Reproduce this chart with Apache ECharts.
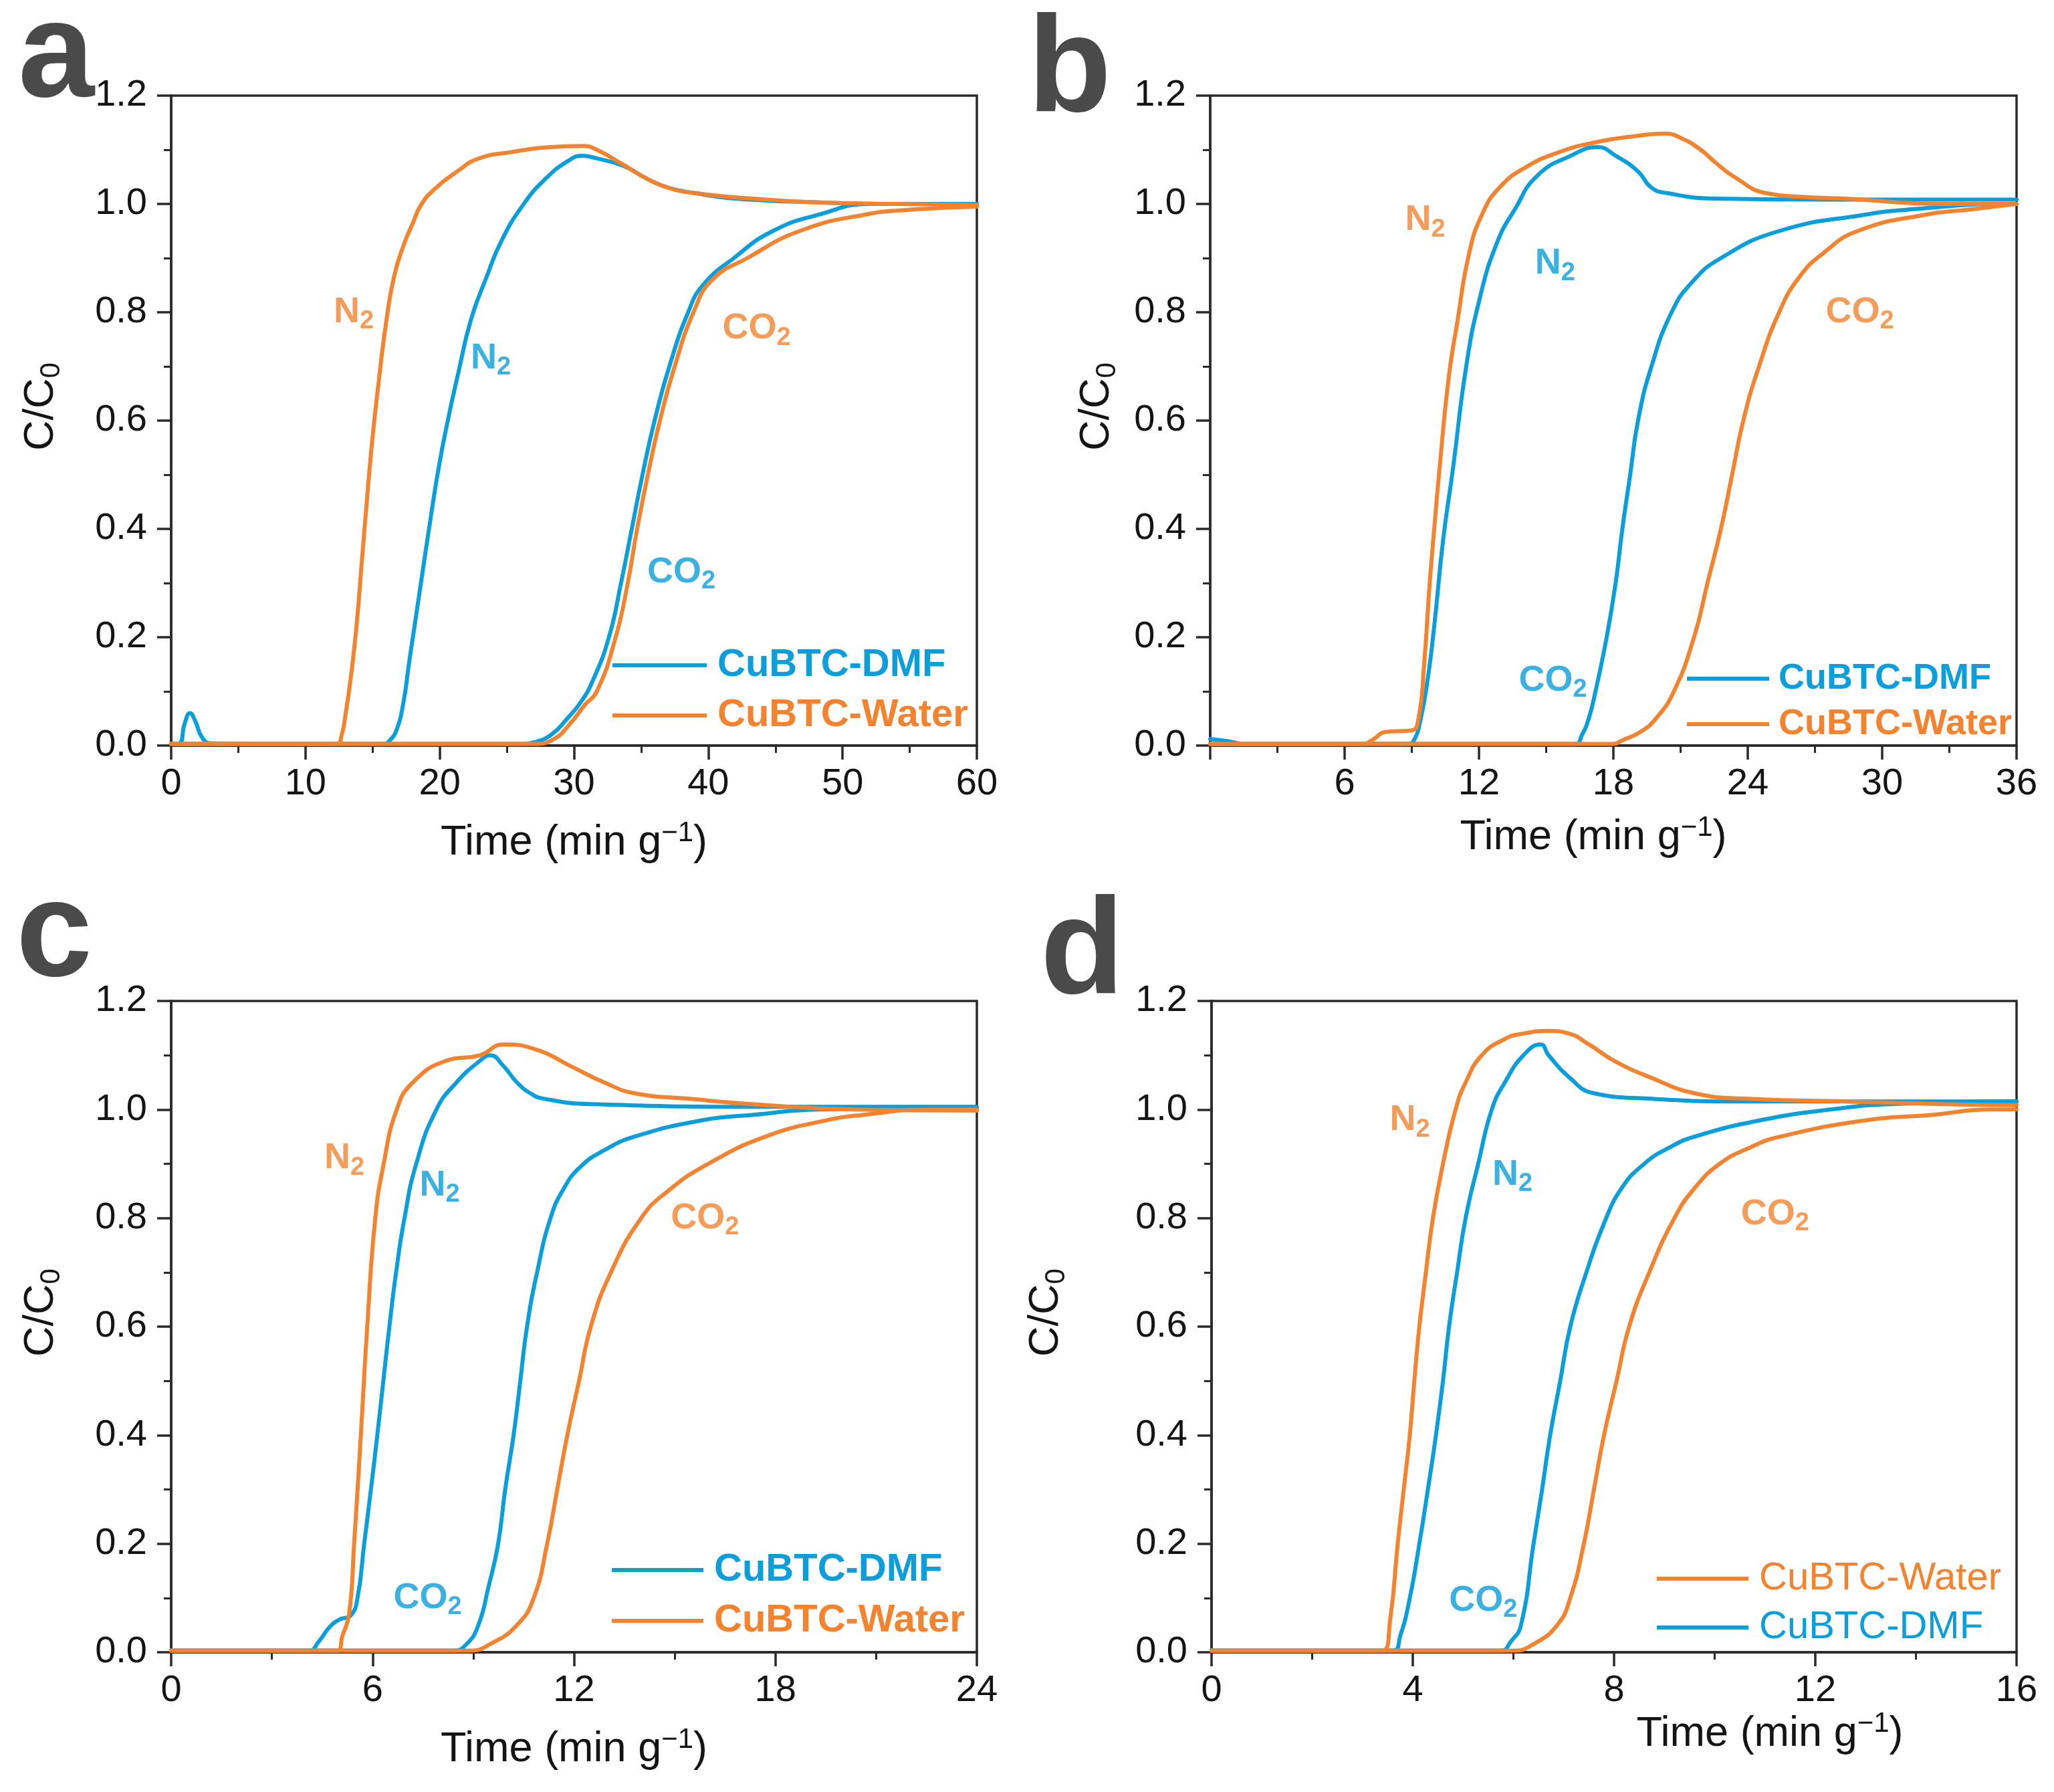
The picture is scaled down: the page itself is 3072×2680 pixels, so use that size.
<!DOCTYPE html>
<html>
<head>
<meta charset="utf-8">
<script src="https://cdn.jsdelivr.net/npm/echarts@6/dist/echarts.min.js"></script>
<style>html,body{margin:0;padding:0;background:#fff}#c{width:3072px;height:2680px}</style>
</head>
<body>
<div id="c"></div>
<script>
// ---------- data ----------
const panelLetters = ['a', 'b', 'c', 'd'];
const xMaxes = [60, 36, 24, 16];
const xSteps = [10, 6, 6, 4];
const yTickLabels = ['0.0', '0.2', '0.4', '0.6', '0.8', '1.0', '1.2'];
const seriesNames = ['CuBTC-DMF', 'CuBTC-Water'];

// panel a
const aDmfN2 = [[0,0.003],[0.6,0.004],[1.0,0.04],[1.4,0.06],[1.8,0.045],[2.3,0.015],[3,0.004],[10,0.003],[15.8,0.003],[16.3,0.01],[16.8,0.03],[17.3,0.08],[17.7,0.15],[18.0,0.2],[18.6,0.3],[19.2,0.4],[19.9,0.51],[20.6,0.6],[21.4,0.69],[22.3,0.784],[23.5,0.866],[24.6,0.932],[26.2,0.998],[27.9,1.047],[29.6,1.08],[30.6,1.089],[31.7,1.084],[33.7,1.07],[35.4,1.047],[37,1.03],[39,1.02],[42,1.01],[48,1.003],[54,1.0],[60,1.0]];
const aDmfCO2 = [[0,0.003],[26,0.003],[27,0.006],[28.3,0.02],[29.5,0.05],[30.5,0.08],[31.4,0.12],[32.6,0.2],[33.5,0.3],[34.3,0.4],[35.1,0.5],[36.0,0.6],[37.1,0.7],[38.5,0.8],[39.6,0.85],[41.9,0.9],[44.8,0.95],[48.2,0.98],[52.1,1.0],[60,1.0]];
const aWaterN2 = [[0,0.003],[12.3,0.003],[12.7,0.02],[13.0,0.06],[13.4,0.13],[13.8,0.22],[14.2,0.34],[14.6,0.46],[15.0,0.57],[15.4,0.66],[16.0,0.78],[16.6,0.866],[17.3,0.923],[18.0,0.965],[18.6,0.998],[19.6,1.027],[21.3,1.06],[22.9,1.084],[25.4,1.096],[28.2,1.105],[30.7,1.107],[31.7,1.1],[33.7,1.072],[35.4,1.047],[37,1.03],[39,1.02],[43.3,1.01],[48,1.003],[54,1.0],[60,0.998]];
const aWaterCO2 = [[0,0.003],[27,0.003],[28.5,0.012],[29.7,0.04],[30.8,0.075],[31.7,0.1],[33.1,0.2],[34.0,0.3],[34.7,0.4],[35.5,0.5],[36.4,0.6],[37.5,0.7],[38.9,0.8],[40.3,0.86],[42.9,0.9],[46.8,0.95],[51.6,0.98],[55.5,0.99],[60,0.995]];

// panel b
const bDmfN2 = [[0,0.012],[0.8,0.008],[1.5,0.003],[8.8,0.003],[9.1,0.01],[9.4,0.05],[9.7,0.12],[10.0,0.22],[10.4,0.38],[10.84,0.512],[11.43,0.7],[12.03,0.825],[12.8,0.928],[13.6,0.99],[14.6,1.052],[16.1,1.089],[17.3,1.105],[18.1,1.089],[19.1,1.06],[19.7,1.03],[20.4,1.02],[22.5,1.01],[28,1.008],[36,1.008]];
const bDmfCO2 = [[0,0.003],[16.3,0.003],[16.6,0.02],[16.9,0.05],[17.2,0.1],[17.7,0.2],[18.1,0.3],[18.4,0.4],[18.75,0.5],[19.1,0.6],[19.7,0.7],[20.6,0.8],[21.5,0.855],[22.8,0.9],[25.4,0.95],[29.2,0.98],[31.3,0.99],[35.7,1.0],[36,1.0]];
const bWaterN2 = [[0,0.003],[6.8,0.003],[7.3,0.012],[7.8,0.025],[9.0,0.028],[9.3,0.05],[9.55,0.15],[9.8,0.3],[10.0,0.4],[10.24,0.512],[10.65,0.68],[11.04,0.784],[11.55,0.907],[12.14,0.981],[12.93,1.031],[14.1,1.068],[15.6,1.096],[17.1,1.113],[19.1,1.126],[20.3,1.13],[21.1,1.12],[21.9,1.1],[22.6,1.075],[23.4,1.05],[24.8,1.02],[26.5,1.013],[28.3,1.01],[32.7,1.0],[36,1.0]];
const bWaterCO2 = [[0,0.003],[18.0,0.003],[18.4,0.01],[19.2,0.025],[19.9,0.05],[20.7,0.1],[21.6,0.2],[22.2,0.3],[22.8,0.4],[23.3,0.5],[23.8,0.6],[24.5,0.7],[25.4,0.8],[26.3,0.865],[27.4,0.91],[28.9,0.95],[31.9,0.98],[34,0.99],[36,1.0]];

// panel c
const cDmfN2 = [[0,0.003],[4.1,0.003],[4.4,0.02],[4.7,0.045],[5.0,0.06],[5.35,0.068],[5.55,0.1],[5.75,0.2],[5.95,0.3],[6.14,0.4],[6.32,0.5],[6.5,0.6],[6.7,0.7],[6.95,0.8],[7.3,0.9],[7.9,1.0],[8.5,1.05],[9.2,1.09],[9.5,1.1],[9.9,1.08],[10.3,1.05],[10.7,1.03],[11.1,1.02],[12.5,1.01],[18,1.005],[24,1.005]];
const cDmfCO2 = [[0,0.003],[8.4,0.003],[8.8,0.015],[9.15,0.05],[9.45,0.12],[9.74,0.2],[9.95,0.3],[10.2,0.4],[10.4,0.5],[10.6,0.6],[10.9,0.7],[11.3,0.8],[11.7,0.855],[12.2,0.895],[12.9,0.925],[13.8,0.95],[15.8,0.98],[17.3,0.99],[19.3,1.0],[24,1.003]];
const cWaterN2 = [[0,0.003],[4.95,0.003],[5.1,0.03],[5.3,0.07],[5.45,0.2],[5.65,0.4],[5.84,0.6],[6.08,0.8],[6.33,0.9],[6.72,1.0],[7.2,1.05],[8.2,1.09],[9.2,1.1],[9.9,1.12],[10.9,1.11],[11.9,1.08],[12.9,1.05],[13.8,1.03],[15.4,1.02],[17.3,1.01],[20.3,1.0],[24,0.998]];
const cWaterCO2 = [[0,0.003],[8.9,0.003],[9.5,0.015],[10.3,0.05],[10.8,0.1],[11.2,0.2],[11.5,0.3],[11.8,0.4],[12.15,0.5],[12.5,0.6],[13.1,0.7],[14.0,0.8],[14.8,0.85],[16.0,0.9],[17.7,0.95],[19.5,0.98],[20.6,0.99],[22.6,1.0],[24,1.0]];

// panel d
const dDmfN2 = [[0,0.003],[3.6,0.003],[3.75,0.03],[3.94,0.1],[4.13,0.2],[4.3,0.3],[4.46,0.4],[4.6,0.5],[4.72,0.6],[4.88,0.7],[5.05,0.8],[5.3,0.9],[5.57,1.0],[5.83,1.05],[6.2,1.1],[6.54,1.12],[6.7,1.1],[7.1,1.06],[7.6,1.03],[8.7,1.02],[10.6,1.015],[16,1.015]];
const dDmfCO2 = [[0,0.003],[5.75,0.003],[5.95,0.02],[6.15,0.05],[6.4,0.2],[6.57,0.3],[6.73,0.4],[6.93,0.5],[7.13,0.6],[7.45,0.7],[7.8,0.79],[8.15,0.855],[8.6,0.9],[9.1,0.93],[9.6,0.95],[10.9,0.98],[12.3,1.0],[13.5,1.01],[16,1.015]];
const dWaterN2 = [[0,0.003],[3.4,0.003],[3.55,0.06],[3.7,0.2],[3.82,0.3],[3.94,0.4],[4.03,0.5],[4.13,0.6],[4.26,0.7],[4.4,0.8],[4.6,0.9],[4.85,1.0],[5.05,1.05],[5.37,1.1],[5.83,1.13],[6.2,1.14],[6.7,1.145],[7.1,1.14],[7.5,1.12],[8.0,1.09],[8.7,1.06],[9.6,1.03],[10.6,1.02],[12.6,1.015],[14.5,1.01],[16,1.008]];
const dWaterCO2 = [[0,0.003],[6.0,0.003],[6.4,0.015],[6.87,0.05],[7.13,0.1],[7.4,0.2],[7.6,0.3],[7.8,0.4],[8.05,0.5],[8.3,0.6],[8.7,0.7],[9.2,0.8],[9.6,0.855],[10.1,0.9],[10.7,0.93],[11.3,0.95],[13.0,0.98],[14.3,0.99],[15.5,1.0],[16,1.0]];

// curve annotations: [x, y, gas, material]
const aNotes = [[13.6,0.80,'N','Water'],[23.8,0.715,'N','DMF'],[43.6,0.77,'CO','Water'],[38.0,0.32,'CO','DMF']];
const bNotes = [[9.6,0.97,'N','Water'],[15.4,0.89,'N','DMF'],[29.0,0.80,'CO','Water'],[15.3,0.12,'CO','DMF']];
const cNotes = [[5.16,0.91,'N','Water'],[8.0,0.86,'N','DMF'],[15.9,0.80,'CO','Water'],[7.64,0.10,'CO','DMF']];
const dNotes = [[3.94,0.98,'N','Water'],[5.98,0.88,'N','DMF'],[11.2,0.807,'CO','Water'],[5.4,0.095,'CO','DMF']];

// ---------- styling / layout ----------
const BLUE = '#0A9EDB';
const ORANGE = '#F3832F';
const AX = '#2a2a2a';
const TXT = '#141414';
const FONT = "'Liberation Sans', Arial, Helvetica, sans-serif";

const grids = [
  {left: 256, top: 143, width: 1205, height: 972},
  {left: 1810, top: 143, width: 1206, height: 972},
  {left: 256, top: 1497, width: 1205, height: 974},
  {left: 1812, top: 1497, width: 1204, height: 974}
];
const xNameGaps = [110, 102, 110, 86];
const xNamePads = [[0,0,0,0],[0,60,0,0],[0,0,0,0],[0,0,0,466]];
const yNameGaps = [158, 133, 158, 211];
const letterPos = [[27,-15],[1537,7],[24,1300],[1556,1326]];

const curves = [
  [aDmfN2, aDmfCO2, aWaterN2, aWaterCO2],
  [bDmfN2, bDmfCO2, bWaterN2, bWaterCO2],
  [cDmfN2, cDmfCO2, cWaterN2, cWaterCO2],
  [dDmfN2, dDmfCO2, dWaterN2, dWaterCO2]
];
const notes = [aNotes, bNotes, cNotes, dNotes];

const legendCfg = [
  {left: 916, top: 966, w: 141, fs: 58, gap: 17, pad: 11, bold: true, order: [0,1]},
  {left: 2523, top: 988, w: 123, fs: 54, gap: 14, pad: 9, bold: true, order: [0,1]},
  {left: 915, top: 2319, w: 137, fs: 58, gap: 18, pad: 11, bold: true, order: [0,1]},
  {left: 2478, top: 2332, w: 137, fs: 58, gap: 15, pad: 11, bold: false, order: [1,0]}
];

const xAxes = [], yAxes = [], series = [], legends = [], graphics = [];

for (let i = 0; i < 4; i++) {
  xAxes.push({
    type: 'value', gridIndex: i, min: 0, max: xMaxes[i], interval: xSteps[i],
    name: '{t|Time (min g}{sup|\u22121}{t|)}',
    nameLocation: 'middle', nameGap: xNameGaps[i],
    nameTextStyle: {
      padding: xNamePads[i],
      rich: {
        t: {fontSize: 63, fontFamily: FONT, color: TXT, lineHeight: 63},
        sup: {fontSize: 42, fontFamily: FONT, color: TXT, padding: [0,0,30,0]}
      }
    },
    axisLine: {onZero: false, lineStyle: {color: AX, width: 3.5}},
    axisTick: {length: 21, lineStyle: {color: AX, width: 3.5}},
    minorTick: {show: true, splitNumber: 2, length: 11, lineStyle: {color: AX, width: 3}},
    splitLine: {show: false},
    axisLabel: {
      fontSize: 56, fontFamily: FONT, color: TXT, margin: 30,
      formatter: (i === 1) ? (v => v === 0 ? '' : String(v)) : (v => String(v))
    }
  });
  yAxes.push({
    type: 'value', gridIndex: i, min: 0, max: 1.2, interval: 0.2,
    name: '{t|C/C}{sub|0}',
    nameLocation: 'middle', nameGap: yNameGaps[i],
    nameTextStyle: {
      padding: [0,0,0,42],
      rich: {
        t: {fontSize: 63, fontFamily: FONT, color: TXT, lineHeight: 63},
        sub: {fontSize: 42, fontFamily: FONT, color: TXT, padding: [30,0,0,0]}
      }
    },
    axisLine: {onZero: false, lineStyle: {color: AX, width: 3.5}},
    axisTick: {length: 21, lineStyle: {color: AX, width: 3.5}},
    minorTick: {show: true, splitNumber: 2, length: 11, lineStyle: {color: AX, width: 3}},
    splitLine: {show: false},
    axisLabel: {
      fontSize: 56, fontFamily: FONT, color: TXT, margin: 36,
      formatter: v => yTickLabels[Math.round(v / 0.2)]
    }
  });

  const c = curves[i];
  const defs = [[seriesNames[0], BLUE, c[0]], [seriesNames[0], BLUE, c[1]], [seriesNames[1], ORANGE, c[2]], [seriesNames[1], ORANGE, c[3]]];
  defs.forEach(([name, color, data], k) => {
    series.push({
      type: 'line', name, xAxisIndex: i, yAxisIndex: i, data,
      showSymbol: false, symbol: 'none', smooth: 0.5,
      lineStyle: {color, width: 6, cap: 'round', join: 'round'}, itemStyle: {color},
      z: 3 + k, silent: true, animation: false
    });
  });

  series.push({
    type: 'scatter', name: 'notes-' + panelLetters[i], xAxisIndex: i, yAxisIndex: i,
    symbolSize: 0, silent: true, animation: false, z: 10,
    data: notes[i].map(([x, y, gas, mat]) => {
      const col = mat === 'DMF' ? BLUE : ORANGE;
      return {
        value: [x, y],
        label: {
          show: true, position: 'inside',
          formatter: '{m|' + gas + '}{s|2}',
          rich: {
            m: {fontSize: 54, fontWeight: 'bold', fontFamily: FONT, color: col, lineHeight: 54},
            s: {fontSize: 38, fontWeight: 'bold', fontFamily: FONT, color: col, padding: [28,0,0,0]}
          }
        }
      };
    })
  });

  const L = legendCfg[i];
  legends.push({
    orient: 'vertical', left: L.left, top: L.top, padding: 0,
    itemWidth: L.w, itemHeight: 6, itemGap: L.gap, icon: 'rect',
    selectedMode: false,
    textStyle: {fontSize: L.fs, lineHeight: L.fs, fontFamily: FONT, fontWeight: L.bold ? 'bold' : 'normal', padding: [0,0,0,L.pad]},
    data: L.order.map(k => ({
      name: seriesNames[k],
      textStyle: {color: k === 0 ? BLUE : ORANGE}
    }))
  });

  graphics.push({
    type: 'text', left: letterPos[i][0], top: letterPos[i][1], silent: true,
    style: {text: panelLetters[i], font: 'bold 205px ' + FONT, fill: '#4a4a4a'}
  });
}

const chart = echarts.init(document.getElementById('c'), null, {renderer: 'canvas'});
chart.setOption({
  animation: false,
  backgroundColor: '#ffffff',
  grid: grids.map(g => Object.assign({show: true, borderColor: AX, borderWidth: 3.5, backgroundColor: 'transparent'}, g)),
  xAxis: xAxes,
  yAxis: yAxes,
  legend: legends,
  series,
  graphic: graphics
});
</script>
</body>
</html>
